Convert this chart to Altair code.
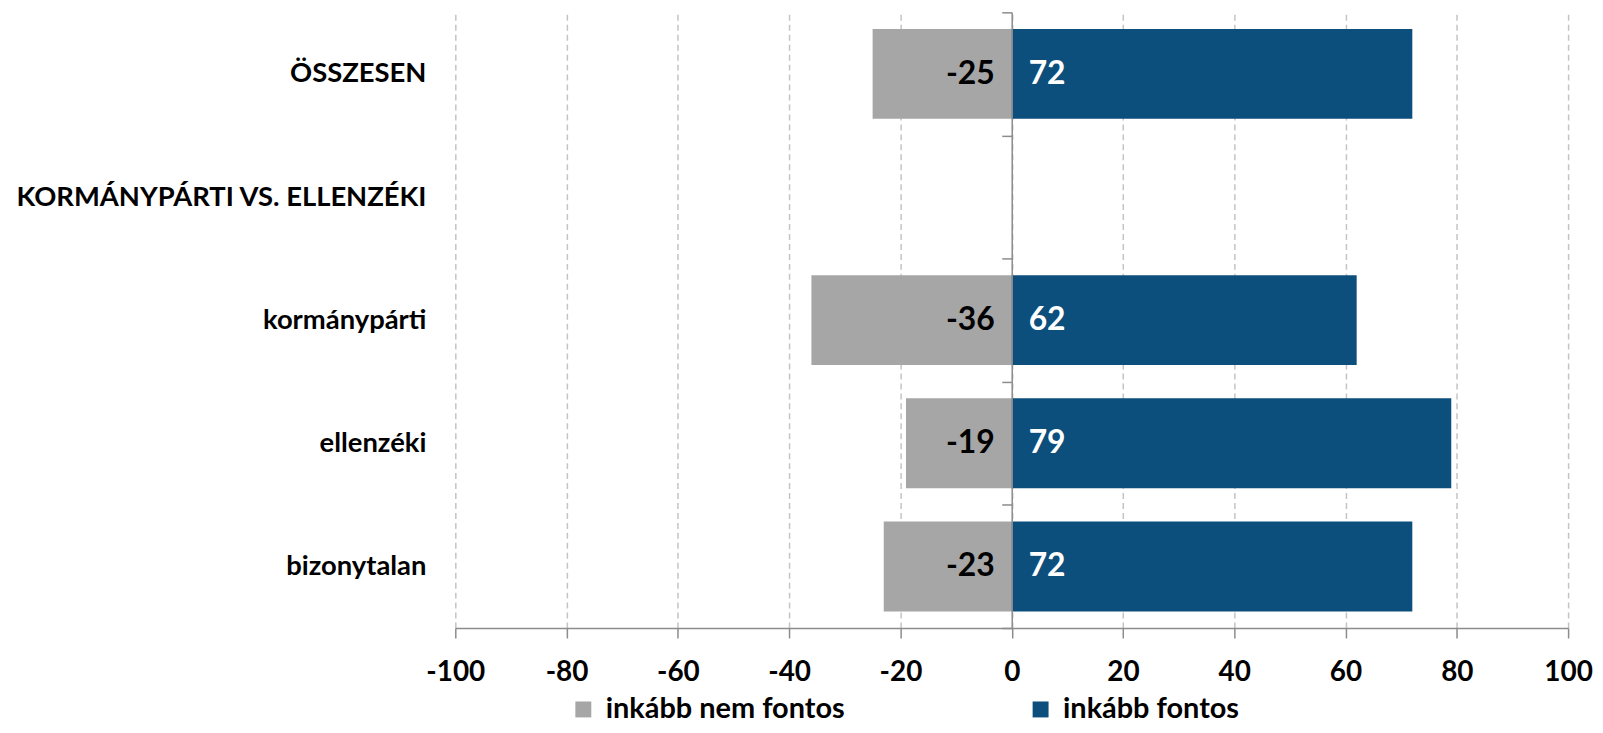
import altair as alt
import pandas as pd

categories = ["ÖSSZESEN", "KORMÁNYPÁRTI VS. ELLENZÉKI", "kormánypárti", "ellenzéki", "bizonytalan"]
neg_values = [-25, None, -36, -19, -23]
pos_values = [72, None, 62, 79, 72]
series = ["inkább nem fontos", "inkább fontos"]
colors = ["#A6A6A6", "#0C4E7C"]
x_ticks = [-100, -80, -60, -40, -20, 0, 20, 40, 60, 80, 100]

rows = []
for c, n, p in zip(categories, neg_values, pos_values):
    rows.append({"cat": c, "series": series[0], "value": n})
    rows.append({"cat": c, "series": series[1], "value": p})
df = pd.DataFrame(rows)

W, H = 1117, 618
FONT = "Lato"
AXIS_GREY = "#8c8c8c"

y_enc = alt.Y(
    "cat:N",
    sort=categories,
    scale=alt.Scale(domain=categories, paddingInner=0, paddingOuter=0),
    axis=alt.Axis(
        title=None, orient="left", offset=-W / 2,
        domain=True, domainColor=AXIS_GREY, domainWidth=1.5,
        ticks=True, tickBand="extent", tickSize=10, tickColor=AXIS_GREY, tickWidth=1.5,
        labelPadding=578, labelFont=FONT, labelFontSize=27.5, labelFontWeight="bold",
        labelColor="black", labelLimit=0, zindex=1,
    ),
)

x_scale = alt.Scale(domain=[-100, 100], nice=False, zero=False)
x_enc = alt.X(
    "value:Q",
    scale=x_scale,
    axis=alt.Axis(
        values=x_ticks, title=None, labelExpr="toString(datum.value)",
        grid=True, gridDash=[6, 4], gridColor="#c4c4c4", gridWidth=1.5,
        domainColor=AXIS_GREY, domainWidth=1.5,
        tickColor=AXIS_GREY, tickSize=10, tickWidth=1.5,
        labelFont=FONT, labelFontSize=28, labelFontWeight="bold", labelColor="black",
        labelPadding=21, labelFlush=False,
    ),
)

base = alt.Chart(df)

bars = base.mark_bar(height={"band": 0.73}).encode(
    y=y_enc,
    x=x_enc,
    color=alt.Color(
        "series:N",
        scale=alt.Scale(domain=series, range=colors),
        legend=alt.Legend(
            title=None, orient="none", legendX=114, legendY=685,
            direction="horizontal", symbolType="square", symbolSize=256,
            symbolStrokeWidth=0, labelFont=FONT, labelFontSize=29,
            labelFontWeight="bold", labelColor="black", labelOffset=8,
            labelLimit=0, columnPadding=182,
        ),
    ),
)

text_base = base.transform_filter("isValid(datum.value)").transform_calculate(
    lbl="toString(datum.value)"
)

neg_text = text_base.transform_filter(alt.datum.series == series[0]).mark_text(
    align="right", baseline="middle", dx=-17, font=FONT, fontSize=32,
    fontWeight="bold", color="black",
).encode(
    y=alt.Y("cat:N", sort=categories),
    x=alt.datum(0),
    text="lbl:N",
)

pos_text = text_base.transform_filter(alt.datum.series == series[1]).mark_text(
    align="left", baseline="middle", dx=17, font=FONT, fontSize=32,
    fontWeight="bold", color="white",
).encode(
    y=alt.Y("cat:N", sort=categories),
    x=alt.datum(0),
    text="lbl:N",
)

chart = alt.layer(bars, neg_text, pos_text).properties(
    width=W, height=H,
    padding={"left": 449, "top": 3, "right": 27, "bottom": 96},
    autosize=alt.AutoSizeParams(type="none"),
).configure_view(stroke=None)

chart.save("out.html", embed_options={"renderer": "svg", "actions": False})
